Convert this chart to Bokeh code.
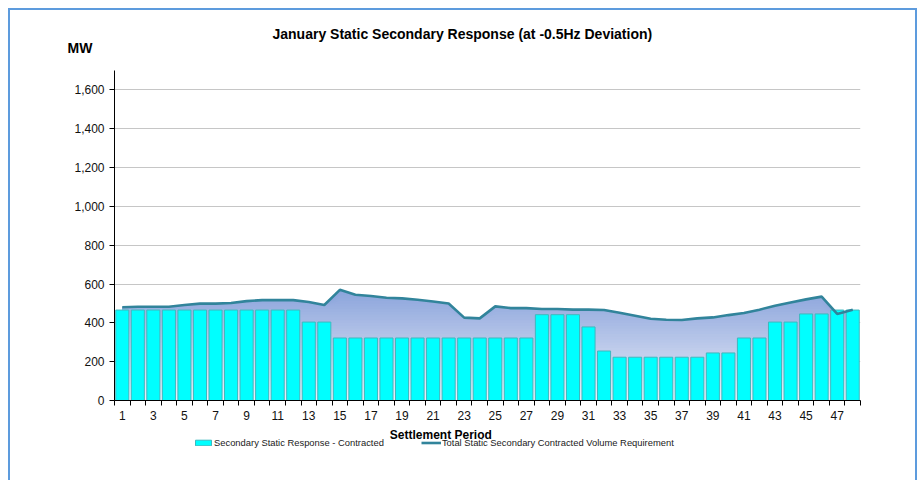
from bokeh.plotting import figure
from bokeh.layouts import column
from bokeh.models import (ColumnDataSource, FixedTicker, NumeralTickFormatter, Label,
                          Legend, LegendItem, Range1d)
from bokeh.embed import file_html
from bokeh.resources import INLINE

# ---------------- data ----------------
periods = list(range(1, 49))
contracted = ([466] * 12 + [404] * 2 + [322] * 13 + [442] * 3 + [379, 255] +
              [223] * 6 + [245] * 2 + [322] * 2 + [404] * 2 + [446] * 2 + [466] * 2)
requirement = [480, 483, 483, 483, 492, 499, 499, 502, 512, 517, 517, 517,
               507, 492, 570, 545, 538, 529, 526, 519, 510, 500, 427, 423,
               485, 476, 476, 471, 471, 468, 468, 466, 452, 437, 421, 416,
               415, 423, 428, 440, 451, 468, 488, 505, 521, 535, 446, 468]
y_ticks = [0, 200, 400, 600, 800, 1000, 1200, 1400, 1600]
x_tick_values = list(range(1, 48, 2))
x_tick_labels = [str(v) for v in x_tick_values]

title_text = "January Static Secondary Response (at -0.5Hz Deviation)"
y_unit_text = "MW"
x_title_text = "Settlement  Period"
bar_name = "Secondary Static Response - Contracted"
line_name = "Total Static Secondary Contracted Volume Requirement"

FONT = "Liberation Sans"
BORDER = "2px solid #5D9BDD"
BAR_FILL = "#00FFFF"
BAR_LINE = "#3FB8BE"
LINE_COLOR = "#31849B"
W = 905
X0 = 10          # page x of the canvas left edge


def text_panel(top, bottom):
    # a plain panel whose data coordinates equal page pixels
    f = figure(width=W, height=bottom - top, output_backend="svg", toolbar_location=None,
               title=None, x_range=Range1d(X0, X0 + W), y_range=Range1d(bottom, top),
               x_axis_location=None, y_axis_location=None,
               min_border_left=0, min_border_right=0, min_border_top=0,
               min_border_bottom=0)
    f.frame_align = False
    f.grid.visible = False
    f.outline_line_color = None
    f.background_fill_color = "white"
    f.border_fill_color = "white"
    return f


src = ColumnDataSource(dict(x=periods, contracted=contracted, req=requirement))

# ---------------- header (title + unit) ----------------
p0 = text_panel(10, 70)
p0.add_layout(Label(x=272, y=33, text=title_text, text_font=FONT,
                    text_font_size="14px", text_font_style="bold",
                    text_align="left", text_baseline="middle", text_color="black"))
p0.add_layout(Label(x=67, y=47, text=y_unit_text, text_font=FONT,
                    text_font_size="14px", text_font_style="bold",
                    text_align="left", text_baseline="middle", text_color="black"))

# ---------------- main chart ----------------
p = figure(width=W, height=355, output_backend="svg", toolbar_location=None,
           title=None, x_range=Range1d(0.5, 48.5), y_range=Range1d(0, 1700),
           min_border_left=104, min_border_right=55, min_border_top=0,
           min_border_bottom=25)
p.frame_align = False
p.outline_line_color = None
p.background_fill_color = "white"
p.border_fill_color = "white"

# gradient area under requirement (layered bands)
top_c = (140, 165, 220)
bot_c = (234, 237, 248)
peak = max(requirement)
n_bands = 40
for k in range(n_bands):
    h = peak * (1 - k / n_bands)
    t = k / (n_bands - 1)
    c = tuple(int(round(top_c[i] + (bot_c[i] - top_c[i]) * t)) for i in range(3))
    ys = [min(r, h) for r in requirement]
    p.varea(x=periods, y1=[0] * len(periods), y2=ys,
            fill_color="#%02x%02x%02x" % c, fill_alpha=1.0)

p.vbar(x="x", top="contracted", width=0.84, source=src,
       fill_color=BAR_FILL, line_color=BAR_LINE, line_width=1)
p.line(x="x", y="req", source=src, line_color=LINE_COLOR, line_width=2.6)

p.xgrid.visible = False
p.ygrid.ticker = FixedTicker(ticks=y_ticks)
p.ygrid.grid_line_color = "#c6c6c6"
p.ygrid.grid_line_width = 1

xa = p.xaxis[0]
xa.ticker = FixedTicker(ticks=x_tick_values, minor_ticks=[i + 0.5 for i in range(0, 49)])
xa.major_label_overrides = {v: s for v, s in zip(x_tick_values, x_tick_labels)}
xa.major_tick_in = 0
xa.major_tick_out = 0
xa.minor_tick_in = 0
xa.minor_tick_out = 5
xa.minor_tick_line_color = "black"
xa.axis_line_color = "black"
xa.major_label_standoff = 5
xa.major_label_text_font = FONT
xa.major_label_text_font_size = "12px"
xa.major_label_text_color = "#111111"

ya = p.yaxis[0]
ya.ticker = FixedTicker(ticks=y_ticks)
ya.formatter = NumeralTickFormatter(format="0,0")
ya.major_tick_in = 0
ya.major_tick_out = 5
ya.minor_tick_line_color = None
ya.axis_line_color = "black"
ya.major_tick_line_color = "black"
ya.major_label_standoff = 5
ya.major_label_text_font = FONT
ya.major_label_text_font_size = "12px"
ya.major_label_text_color = "#111111"

# ---------------- footer (axis title + legend) ----------------
p2 = text_panel(425, 480)
p2.add_layout(Label(x=442, y=434, text=x_title_text, text_font=FONT,
                    text_font_size="12px", text_font_style="bold",
                    text_align="center", text_baseline="middle", text_color="black"))
# legend proxies share the chart's data; hidden so only their legend swatches show
lg_bar = p2.vbar(x="x", top="contracted", width=0.84, source=src,
                 fill_color=BAR_FILL, line_color=BAR_LINE, visible=False)
lg_line = p2.line(x="x", y="req", source=src, line_color=LINE_COLOR, line_width=2.6,
                  visible=False)
legend = Legend(items=[LegendItem(label=bar_name, renderers=[lg_bar]),
                       LegendItem(label=line_name, renderers=[lg_line])],
                orientation="horizontal", location=(183, 32),
                padding=0, margin=0, spacing=37, label_standoff=1,
                glyph_width=20, glyph_height=7, label_height=9,
                label_text_font=FONT, label_text_font_size="9.4px",
                label_text_color="#1a1a1a",
                border_line_color=None, background_fill_alpha=0)
p2.add_layout(legend)

layout = column(p0, p, p2, spacing=0)
layout.styles = {"border-top": BORDER, "border-left": BORDER, "border-right": BORDER,
                 "margin-left": "8px", "margin-top": "8px"}

open("out.html", "w").write(file_html(layout, INLINE))
